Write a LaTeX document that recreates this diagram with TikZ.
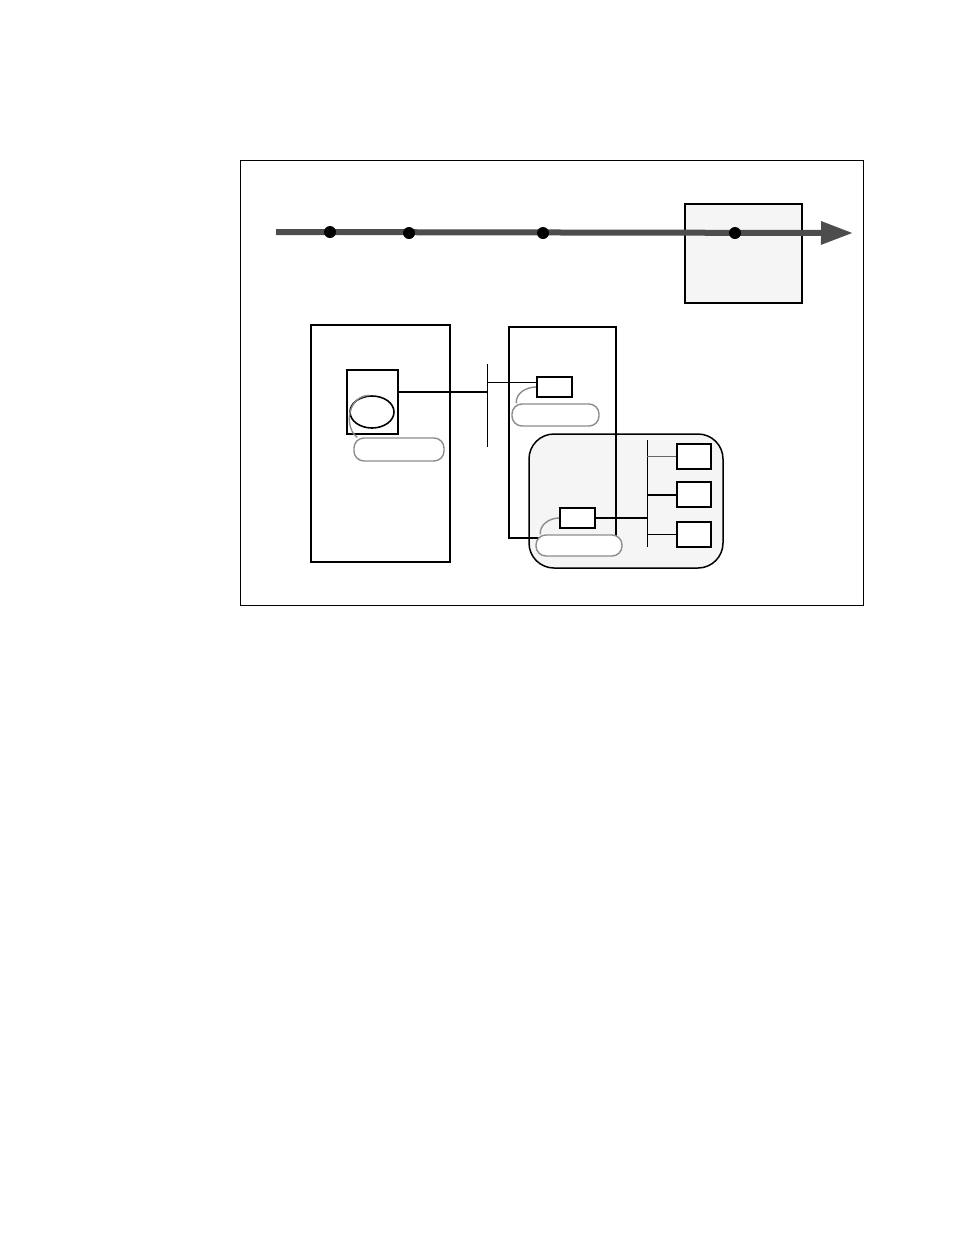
\documentclass[tikz,border=0pt]{standalone}
\usepackage{xcolor}
\usepackage{tikz}
\usetikzlibrary{arrows.meta,shapes}

\definecolor{panel}{HTML}{F5F5F5}
\definecolor{rim}{HTML}{8C8C8C}
\definecolor{axis}{HTML}{4D4D4D}

\begin{document}
\begin{tikzpicture}[x=1pt, y=-1pt,
                        box/.style={draw, rectangle, inner sep=0pt, line width=1.3pt},
                        host/.style={draw, rectangle, inner sep=0pt, line width=2.2pt},
                        port/.style={draw, rectangle, inner sep=0pt, line width=1.8pt, fill=white, minimum width=35pt, minimum height=20pt},
                        pill/.style={draw=rim, rectangle, rounded corners=10pt, inner sep=0pt, line width=1.4pt, fill=white},
                        callout/.style={draw=rim, line width=1.4pt},
                        dot/.style={circle, fill=black, inner sep=0pt, minimum size=12pt},
                        link/.style={line width=2pt}]
                        \useasboundingbox (0,0) rectangle (954,1235);
                        \node[box, line width=1pt, minimum width=623pt, minimum height=445pt] (frame) at (551.5, 382.5) {};
                        \node[box, fill=panel, minimum width=117pt, minimum height=99pt] (stage) at (743.5, 253.5) {};
                        \coordinate (t0) at (276, 232);
                        \coordinate (t1) at (853, 233);
                        \draw [-{Triangle[length=32pt, width=22pt]}, axis, line width=6pt] (t0) -- (t1);
                        \node[dot] (e1) at (330, 232) {};
                        \node[dot] (e2) at (409, 233) {};
                        \node[dot] (e3) at (543, 233) {};
                        \node[dot] (e4) at (735, 233) {};
                        \node[host, minimum width=139pt, minimum height=237pt] (hostA) at (380.5, 443.5) {};
                        \node[box, minimum width=51pt, minimum height=64pt] (procA) at (372.5, 402) {};
                        \node[pill, minimum width=90pt, minimum height=23pt] (pillA) at (399, 449.5) {};
                        \node[draw, ellipse, line width=1.6pt, inner sep=0pt, minimum width=44pt, minimum height=32pt] (elli) at (372, 412) {};
                        \draw [callout] (elli.100) .. controls (347, 396) and (344, 428) .. ([xshift=4pt]pillA.north west);
                        \coordinate (busAtop) at (487, 364);
                        \coordinate (busAbot) at (487, 447);
                        \draw [line width=1pt] (busAtop) -- (busAbot);
                        \draw [link] (procA.20) -- (procA.20 -| busAtop);
                        \node[draw, fill=panel, rectangle, rounded corners=25pt, line width=1.5pt, inner sep=0pt, minimum width=194pt, minimum height=134pt] (zone) at (626, 501) {};
                        \node[host, minimum width=107pt, minimum height=211pt] (hostB) at (562.5, 432.5) {};
                        \node[port] (portB) at (554.5, 387) {};
                        \node[pill, minimum width=87pt, minimum height=22pt] (pillB) at (555.5, 415) {};
                        \draw [callout] (portB.west) to[out=180, in=95] ([xshift=5pt]pillB.north west);
                        \draw [line width=1pt] (portB.165) -- (portB.165 -| busAtop);
                        \node[pill, minimum width=86pt, minimum height=21pt] (pillC) at (579, 545.5) {};
                        \node[port] (portC) at (577.5, 518) {};
                        \draw [callout] (portC.west) to[out=180, in=95] ([xshift=5pt]pillC.north west);
                        \coordinate (busCtop) at (647, 440);
                        \coordinate (busCbot) at (647, 547);
                        \draw [line width=1pt] (busCtop) -- (busCbot);
                        \draw [link] (portC.east) -- (portC.east -| busCtop);
                        \node[port, minimum width=34pt, minimum height=25pt] (dev1) at (694, 456.5) {};
                        \node[port, minimum width=34pt, minimum height=25pt] (dev2) at (694, 494.5) {};
                        \node[port, minimum width=34pt, minimum height=25pt] (dev3) at (694, 534.5) {};
                        \draw [line width=1.4pt, black!60] (dev1.west) -- (dev1.west -| busCtop);
                        \draw [link] (dev2.west) -- (dev2.west -| busCtop);
                        \draw [line width=1pt] (dev3.west) -- (dev3.west -| busCtop);
                        \end{tikzpicture}
\end{document}
